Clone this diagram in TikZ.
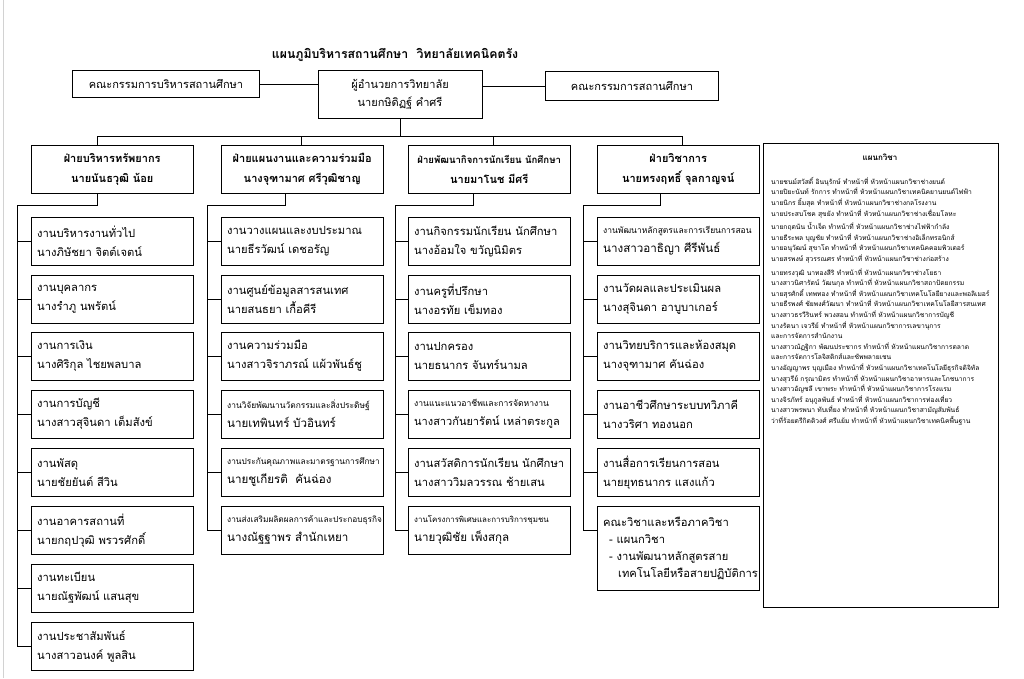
\documentclass[tikz,border=0pt]{standalone}
\usepackage{fontspec}
\setmainfont[Script=Thai]{Loma}
\begin{document}
\begin{tikzpicture}[x=1pt,y=-1pt]
\tikzstyle{every node}=[inner sep=0pt]
\tikzstyle{topbox}=[draw,align=center,font=\fontsize{11}{18}\selectfont]
\tikzstyle{headbox}=[draw,anchor=north west,minimum width=162,minimum height=48,align=center,font=\bfseries\fontsize{11}{20}\selectfont]
\tikzstyle{subbox}=[draw,anchor=north west,minimum height=48,text width=150,inner xsep=6pt,align=left,font=\fontsize{11.2}{19}\selectfont]
\useasboundingbox (0,0) rectangle (1024,678);
\draw[gray!35] (3,0) -- (3,678);
\node[font=\bfseries\fontsize{12.3}{14}\selectfont] (title) at (395,55) {แผนภูมิบริหารสถานศึกษา\ \ วิทยาลัยเทคนิคตรัง};
\node[topbox,minimum width=187,minimum height=27] (board1) at (166,84) {คณะกรรมการบริหารสถานศึกษา};
\node[topbox,minimum width=164,minimum height=48] (director) at (400,94) {ผู้อำนวยการวิทยาลัย\\นายกษิดิฏฐ์ คำศรี};
\node[topbox,minimum width=173,minimum height=29] (board2) at (632,86) {คณะกรรมการสถานศึกษา};
\draw (board1.east) -- (board1.east -| director.west);
\draw (director.east |- board2.west) -- (board2.west);
% heads
\node[headbox] (res) at (31,145) {ฝ่ายบริหารทรัพยากร\\นายนันธวุฒิ น้อย};
\node[headbox] (plan) at (221,145) {ฝ่ายแผนงานและความร่วมมือ\\นางจุฑามาศ ศรีวุฒิชาญ};
\node[headbox] (stud) at (408,145) {{\fontsize{9.6}{10}\selectfont ฝ่ายพัฒนากิจการนักเรียน นักศึกษา}\\นายมาโนช มีศรี};
\node[headbox] (acad) at (597,145) {ฝ่ายวิชาการ\\นายทรงฤทธิ์ จุลกาญจน์};
\coordinate (busA) at (97,136);
\coordinate (busB) at (301,136);
\coordinate (busC) at (493,136);
\coordinate (busD) at (682,136);
\draw (busA) -- (busD);
\draw (director.south) -- (director.south |- busA);
\draw (busA) -- (busA |- res.north);
\draw (busB) -- (busB |- plan.north);
\draw (busC) -- (busC |- stud.north);
\draw (busD) -- (busD |- acad.north);
\coordinate (turnA) at (97,205);
\coordinate (turnB) at (285,205);
\coordinate (turnC) at (473,205);
\coordinate (turnD) at (660,205);
\coordinate (spineA) at (17,205);
\coordinate (spineB) at (207,205);
\coordinate (spineC) at (395,205);
\coordinate (spineD) at (583,205);
% resources
\node[subbox] (res1) at (31,217) {งานบริหารงานทั่วไป\\นางภิษัชยา จิตต์เจตน์};
\node[subbox] (res2) at (31,275) {งานบุคลากร\\นางรำภู นพรัตน์};
\node[subbox] (res3) at (31,332) {งานการเงิน\\นางศิริกุล ไชยพลบาล};
\node[subbox] (res4) at (31,390) {งานการบัญชี\\นางสาวสุจินดา เต็มสังข์};
\node[subbox] (res5) at (31,448) {งานพัสดุ\\นายชัยยันต์ สีวิน};
\node[subbox] (res6) at (31,506) {งานอาคารสถานที่\\นายกฤปวุฒิ พรวรศักดิ์};
\node[subbox] (res7) at (31,564) {งานทะเบียน\\นายณัฐพัฒน์ แสนสุข};
\node[subbox] (res8) at (31,622) {งานประชาสัมพันธ์\\นางสาวอนงค์ พูลสิน};
% planning
\node[subbox] (plan1) at (221,217) {งานวางแผนและงบประมาณ\\นายธีรวัฒน์ เดชอรัญ};
\node[subbox] (plan2) at (221,275) {งานศูนย์ข้อมูลสารสนเทศ\\นายสนธยา เกื้อคีรี};
\node[subbox] (plan3) at (221,332) {งานความร่วมมือ\\นางสาวจิราภรณ์ แผ้วพันธ์ชู};
\node[subbox] (plan4) at (221,390) {{\fontsize{8.4}{9}\selectfont งานวิจัยพัฒนานวัตกรรมและสิ่งประดิษฐ์}\\{\fontsize{11.6}{14}\selectfont นายเทพินทร์ บัวอินทร์}};
\node[subbox] (plan5) at (221,448) {{\fontsize{8.3}{9}\selectfont งานประกันคุณภาพและมาตรฐานการศึกษา}\\{\fontsize{11.6}{14}\selectfont นายชูเกียรติ\ \ คันฉ่อง}};
\node[subbox] (plan6) at (221,506) {{\fontsize{8.3}{9}\selectfont งานส่งเสริมผลิตผลการค้าและประกอบธุรกิจ}\\{\fontsize{11.6}{14}\selectfont นางณัฐฐาพร สำนักเหยา}};
% students
\node[subbox] (stud1) at (408,217) {งานกิจกรรมนักเรียน นักศึกษา\\นางอ้อมใจ ขวัญนิมิตร};
\node[subbox] (stud2) at (408,275) {งานครูที่ปรึกษา\\นางอรทัย เข็มทอง};
\node[subbox] (stud3) at (408,332) {งานปกครอง\\นายธนากร จันทร์นามล};
\node[subbox] (stud4) at (408,390) {{\fontsize{8.6}{9}\selectfont งานแนะแนวอาชีพและการจัดหางาน}\\{\fontsize{11}{14}\selectfont นางสาวกันยารัตน์ เหล่าตระกูล}};
\node[subbox] (stud5) at (408,448) {งานสวัสดิการนักเรียน นักศึกษา\\นางสาววิมลวรรณ ช้ายเสน};
\node[subbox] (stud6) at (408,506) {{\fontsize{7.9}{9}\selectfont งานโครงการพิเศษและการบริการชุมชน}\\{\fontsize{11.6}{14}\selectfont นายวุฒิชัย เพ็งสกุล}};
% academic
\node[subbox] (acad1) at (597,217) {{\fontsize{8.5}{9}\selectfont งานพัฒนาหลักสูตรและการเรียนการสอน}\\{\fontsize{11.6}{14}\selectfont นางสาวอาธิญา ศีรีพันธ์}};
\node[subbox] (acad2) at (597,275) {งานวัดผลและประเมินผล\\นางสุจินดา อาบูบาเกอร์};
\node[subbox] (acad3) at (597,332) {งานวิทยบริการและห้องสมุด\\นางจุฑามาศ คันฉ่อง};
\node[subbox] (acad4) at (597,390) {งานอาชีวศึกษาระบบทวิภาคี\\นางวริศา ทองนอก};
\node[subbox] (acad5) at (597,448) {งานสื่อการเรียนการสอน\\นายยุทธนากร แสงแก้ว};
\node[subbox,minimum height=84,font=\fontsize{11.2}{17}\selectfont] (acad6) at (597,506) {คณะวิชาและหรือภาควิชา\\\hspace*{6pt}- แผนกวิชา\\\hspace*{6pt}- งานพัฒนาหลักสูตรสาย\\\hspace*{15pt}เทคโนโลยีหรือสายปฏิบัติการ};
\coordinate (acad6tick) at ([yshift=-24pt]acad6.north west);
% connectors
\draw (turnA |- res.south) -- (turnA) -- (spineA) -- (spineA |- res8.west);
\draw (turnB |- plan.south) -- (turnB) -- (spineB) -- (spineB |- plan6.west);
\draw (turnC |- stud.south) -- (turnC) -- (spineC) -- (spineC |- stud6.west);
\draw (turnD |- acad.south) -- (turnD) -- (spineD) -- (spineD |- acad6tick);
\foreach \n in {1,...,8} \draw (res\n.west) -- (res\n.west -| spineA);
\foreach \n in {1,...,6} \draw (plan\n.west) -- (plan\n.west -| spineB);
\foreach \n in {1,...,6} \draw (stud\n.west) -- (stud\n.west -| spineC);
\foreach \n in {1,...,5} \draw (acad\n.west) -- (acad\n.west -| spineD);
\draw (acad6tick) -- (acad6tick -| spineD);
% departments
\node[draw,anchor=north west,minimum width=235,minimum height=464] (panel) at (763,143) {};
\node[font=\bfseries\fontsize{8}{10}\selectfont] (paneltitle) at (880,157) {แผนกวิชา};
\node[anchor=north west,align=left,font=\fontsize{6.7}{10.6}\selectfont] (deptlist) at (771,177) {%
นายชนม์สวัสดิ์ อินนุรักษ์ ทำหน้าที่ หัวหน้าแผนกวิชาช่างยนต์\\
นายปิยะนันท์ รักการ ทำหน้าที่ หัวหน้าแผนกวิชาเทคนิคยานยนต์ไฟฟ้า\\
นายนิกร ยิ้มสุด ทำหน้าที่ หัวหน้าแผนกวิชาช่างกลโรงงาน\\
นายประสบโชค สุขยัง ทำหน้าที่ หัวหน้าแผนกวิชาช่างเชื่อมโลหะ\\[3pt]
นายกฤตนัน น้ำเจ็ด ทำหน้าที่ หัวหน้าแผนกวิชาช่างไฟฟ้ากำลัง\\
นายธีระพล บุญชัย ทำหน้าที่ หัวหน้าแผนกวิชาช่างอิเล็กทรอนิกส์\\
นายอนุวัฒน์ สุขาโต ทำหน้าที่ หัวหน้าแผนกวิชาเทคนิคคอมพิวเตอร์\\
นายสรพงษ์ สุวรรณศร ทำหน้าที่ หัวหน้าแผนกวิชาช่างก่อสร้าง\\[3pt]
นายทรงวุฒิ นาทองสีริ ทำหน้าที่ หัวหน้าแผนกวิชาช่างโยธา\\
นางสาวนิศารัตน์ วัฒนกุล ทำหน้าที่ หัวหน้าแผนกวิชาสถาปัตยกรรม\\
นายสุรศักดิ์ เทพทอง ทำหน้าที่ หัวหน้าแผนกวิชาเทคโนโลยียางและพอลิเมอร์\\
นายธีรพงศ์ ชัยพงศ์วัฒนา ทำหน้าที่ หัวหน้าแผนกวิชาเทคโนโลยีสารสนเทศ\\
นางสาวธรวีรินทร์ พวงสอน ทำหน้าที่ หัวหน้าแผนกวิชาการบัญชี\\
นางรัตนา เจวรีย์ ทำหน้าที่ หัวหน้าแผนกวิชาการเลขานุการ\\
และการจัดการสำนักงาน\\
นางสาวณัฏฐิกา พัฒนประชากร ทำหน้าที่ หัวหน้าแผนกวิชาการตลาด\\
และการจัดการโลจิสติกส์และซัพพลายเชน\\
นางอัญญาพร บุญเมือง ทำหน้าที่ หัวหน้าแผนกวิชาเทคโนโลยีธุรกิจดิจิทัล\\
นางสุวรีย์ กรุณามิตร ทำหน้าที่ หัวหน้าแผนกวิชาอาหารและโภชนาการ\\
นางสาวอัญชลี เขาพระ ทำหน้าที่ หัวหน้าแผนกวิชาการโรงแรม\\
นางจิรภัทร์ อนุกูลพันธ์ ทำหน้าที่ หัวหน้าแผนกวิชาการท่องเที่ยว\\
นางสาวพรพนา ทับเที่ยง ทำหน้าที่ หัวหน้าแผนกวิชาสามัญสัมพันธ์\\
ว่าที่ร้อยตรีกิตติวงศ์ ศรีแย้ม ทำหน้าที่ หัวหน้าแผนกวิชาเทคนิคพื้นฐาน};
\end{tikzpicture}
\end{document}
